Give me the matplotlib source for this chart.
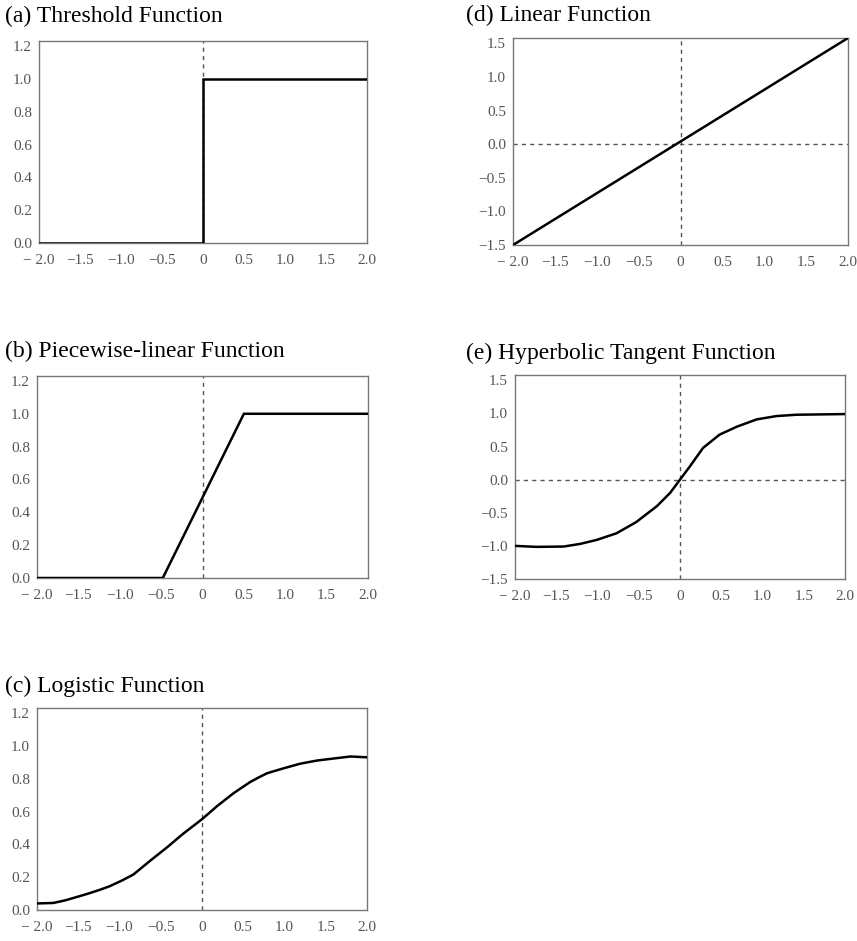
import matplotlib
matplotlib.use("Agg")
import matplotlib.pyplot as plt

# ---- data ----
thr_x = [-2.0, 0.0, 0.0, 2.0]
thr_y = [0.0, 0.0, 1.0, 1.0]

pw_x = [-2.0, -0.48, 0.5, 2.0]
pw_y = [0.0, 0.0, 1.0, 1.0]

log_x = [-2.0, -1.8, -1.65, -1.52, -1.38, -1.24, -1.12, -0.97, -0.83, -0.63, -0.43, -0.23, 0.0,
         0.18, 0.38, 0.58, 0.69, 0.79, 0.99, 1.19, 1.39, 1.6, 1.8, 2.0]
log_y = [0.04, 0.043, 0.06, 0.079, 0.10, 0.123, 0.145, 0.18, 0.217, 0.30, 0.38, 0.465, 0.554,
         0.633, 0.712, 0.78, 0.81, 0.835, 0.865, 0.893, 0.912, 0.925, 0.937, 0.932]

lin_x = [-2.0, 2.0]
lin_y = [-1.5, 1.58]

tanh_x = [-2.0, -1.74, -1.41, -1.21, -1.01, -0.77, -0.53, -0.28, -0.12, 0.0,
          0.12, 0.28, 0.48, 0.69, 0.93, 1.17, 1.41, 2.0]
tanh_y = [-1.0, -1.015, -1.01, -0.97, -0.91, -0.81, -0.64, -0.40, -0.20, 0.0,
          0.2, 0.48, 0.68, 0.80, 0.91, 0.96, 0.98, 0.99]

xticks = [-2.0, -1.5, -1.0, -0.5, 0.0, 0.5, 1.0, 1.5, 2.0]
xtick_labels = ["\u2212 2.0", "\u22121.5", "\u22121.0", "\u22120.5", "0", "0.5", "1.0", "1.5", "2.0"]
yticks_pos = [0.0, 0.2, 0.4, 0.6, 0.8, 1.0, 1.2]
ytick_labels_pos = ["0.0", "0.2", "0.4", "0.6", "0.8", "1.0", "1.2"]
yticks_sym = [-1.5, -1.0, -0.5, 0.0, 0.5, 1.0, 1.5]
ytick_labels_sym = ["\u22121.5", "\u22121.0", "\u22120.5", "0.0", "0.5", "1.0", "1.5"]

titles = ["(a) Threshold Function", "(b) Piecewise-linear Function", "(c) Logistic Function",
          "(d) Linear Function", "(e) Hyperbolic Tangent Function"]

plt.rcParams['font.family'] = ['Liberation Serif', 'DejaVu Serif']

W, H = 857, 941
fig = plt.figure(figsize=(W / 100, H / 100), dpi=100)

def px_axes(l, t, r, b):
    return fig.add_axes([l / W, (H - b) / H, (r - l) / W, (b - t) / H])

panels = [
    ((39, 41, 367, 243), thr_x, thr_y, (0, 1.232), yticks_pos, ytick_labels_pos, False, (5, 16)),
    ((37, 376, 368, 578), pw_x, pw_y, (0, 1.23), yticks_pos, ytick_labels_pos, False, (5, 351)),
    ((37, 708, 367, 910), log_x, log_y, (0, 1.233), yticks_pos, ytick_labels_pos, False, (5, 686)),
    ((513, 38, 848, 245), lin_x, lin_y, (-1.5, 1.58), yticks_sym, ytick_labels_sym, True, (466, 15)),
    ((515, 375, 845, 579), tanh_x, tanh_y, (-1.5, 1.58), yticks_sym, ytick_labels_sym, True, (466, 353)),
]

for (box, xs, ys, ylim, yt, ytl, hline, tpos), title in zip(panels, titles):
    ax = px_axes(*box)
    ax.axvline(0, color='#555555', lw=1.0, ls=(0, (3, 3)), zorder=1)
    if hline:
        ax.axhline(0, color='#555555', lw=1.0, ls=(0, (3, 3)), zorder=1)
    ax.plot(xs, ys, color='black', lw=1.8, zorder=3, solid_joinstyle='miter')
    ax.set_xlim(-2.0, 2.0)
    ax.set_ylim(*ylim)
    ax.set_xticks(xticks)
    ax.set_xticklabels(xtick_labels)
    ax.set_yticks(yt)
    ax.set_yticklabels(ytl)
    ax.tick_params(length=0, labelsize=11, labelcolor='#555555')
    ax.tick_params(axis='x', pad=8)
    ax.tick_params(axis='y', pad=5)
    for sp in ax.spines.values():
        sp.set_color('#777777')
        sp.set_linewidth(1.0)
    fig.text(tpos[0] / W, 1 - tpos[1] / H, title, fontsize=17, color='black',
             ha='left', va='center')

fig.savefig("out.png", dpi=100)
